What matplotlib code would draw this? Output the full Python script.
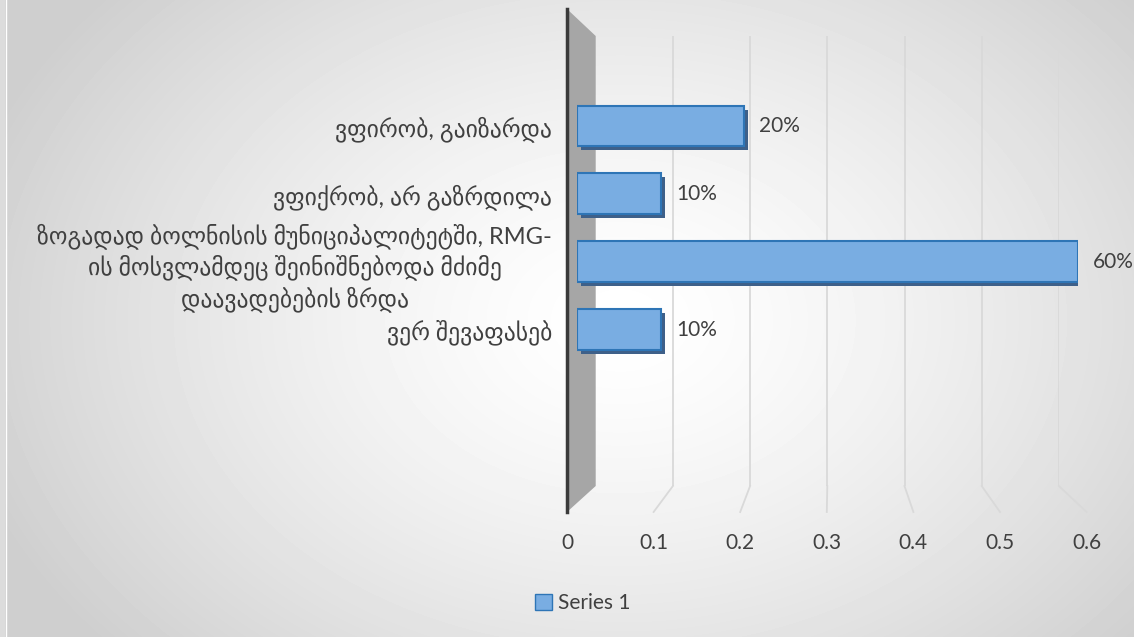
import numpy as np
import matplotlib
matplotlib.use("Agg")
import matplotlib.pyplot as plt
from matplotlib.patches import Polygon, Patch, Rectangle
from matplotlib.lines import Line2D
from matplotlib.transforms import offset_copy

plt.rcParams['font.family'] = ['Lato', 'DejaVu Sans']

# data (bottom to top, as matplotlib draws barh)
categories = ["ვერ შევაფასებ",
              "ზოგადად ბოლნისის მუნიციპალიტეტში, RMG-\nის მოსვლამდეც შეინიშნებოდა მძიმე\nდაავადებების ზრდა",
              "ვფიქრობ, არ გაზრდილა",
              "ვფირობ, გაიზარდა"]
values = [0.1, 0.6, 0.1, 0.2]
xticks = [0, 0.1, 0.2, 0.3, 0.4, 0.5, 0.6]
series_name = "Series 1"

W, H = 1134, 637
fig = plt.figure(figsize=(W / 100, H / 100), dpi=100)


def rect(x0, y0, x1, y1):
    # pixel box (top-left origin) -> figure fraction
    return [x0 / W, 1 - y1 / H, (x1 - x0) / W, (y1 - y0) / H]


# radial grey background
bg = fig.add_axes([0, 0, 1, 1], zorder=-10)
yy, xx = np.mgrid[0:H, 0:W]
r = np.sqrt(((xx - 620) / 680.0) ** 2 + ((yy - 320) / 500.0) ** 2)
shade = 1 - 0.19 * np.clip(r, 0, 1) ** 1.4
bg.imshow(shade, cmap='gray', vmin=0, vmax=1, aspect='auto', extent=[0, W, H, 0])
bg.set_axis_off()
# thin light strip on the left edge of the chart frame
fig.add_artist(Rectangle((0, 0), 5 / W, 1, transform=fig.transFigure,
                         facecolor='#dcdcdc', edgecolor='none', zorder=-5))
fig.add_artist(Line2D([5.5 / W, 5.5 / W], [0, 1], color='white', lw=1, zorder=-4))

# back wall gridlines
ax_back = fig.add_axes(rect(595.7, 36, 595.7 + 0.6 * 772, 486), zorder=0)
ax_back.set_xlim(0, 0.6)
ax_back.set_ylim(0, 1)
ax_back.set_axis_off()
for t in xticks[1:]:
    ax_back.axvline(t, color='#d9d9d9', lw=1.3)

# front plane: axis line and tick labels
ax_front = fig.add_axes(rect(567, 9, 567 + 0.6 * 866, 512), zorder=1)
ax_front.patch.set_visible(False)
ax_front.set_xlim(0, 0.6)
ax_front.set_ylim(0, 1)
ax_front.set_xticks(xticks)
ax_front.set_xticklabels([f'{t:g}' for t in xticks], fontsize=15, color='#404040')
ax_front.tick_params(axis='x', length=0, pad=15)
ax_front.set_yticks([])
for s in ['top', 'right', 'bottom']:
    ax_front.spines[s].set_visible(False)
ax_front.spines['left'].set_color('#3a3a3a')
ax_front.spines['left'].set_linewidth(2.5)
ax_front.spines['left'].set_zorder(3)

to_fig = fig.transFigure.inverted()


def fpt(a, x, y):
    return to_fig.transform(a.transData.transform((x, y)))


# perspective floor segments
for t in xticks[1:]:
    p0 = fpt(ax_back, t, 0)
    p1 = fpt(ax_front, t, 0)
    fig.add_artist(Line2D([p0[0], p1[0]], [p0[1], p1[1]], color='#d9d9d9', lw=1.3, zorder=0))

# side wall
wall = Polygon([fpt(ax_front, 0, 1), fpt(ax_back, 0, 1), fpt(ax_back, 0, 0), fpt(ax_front, 0, 0)],
               closed=True, facecolor='#a6a6a6', edgecolor='none', zorder=0.5)
fig.add_artist(wall)

# bars
ax = fig.add_axes(rect(577, 10, 577 + 0.6 * 835, 512), zorder=2)
ax.patch.set_visible(False)
pos = np.arange(len(categories))
shift = offset_copy(ax.transData, fig=fig, x=4, y=-4, units='dots')
ax.barh(pos, values, height=0.6, color='#3e6089', transform=shift)
ax.barh(pos, values, height=0.6, color='#79ade2', edgecolor='#2e75b6', lw=1.5)
ax.set_xlim(0, 0.6)
ax.set_ylim(-2.69, 4.71)

for k, v in zip(pos, values):
    ax.annotate(f'{v:.0%}', (v, k), xytext=(11, 0), textcoords='offset points',
                va='center', ha='left', fontsize=15, color='#404040')

ax.set_yticks(pos)
ax.set_yticklabels(categories, fontsize=17, color='#404040')
for lbl in ax.get_yticklabels():
    lbl.set_multialignment('center')
    lbl.set_linespacing(1.3)
ax.tick_params(axis='y', length=0, pad=18)
ax.set_xticks([])
for s in ax.spines.values():
    s.set_visible(False)

fig.legend(handles=[Patch(facecolor='#79ade2', edgecolor='#2e75b6', label=series_name)],
           loc='center', bbox_to_anchor=(583 / W, 1 - 603 / H), frameon=False,
           fontsize=15, handlelength=0.8, handleheight=0.8, handletextpad=0.3,
           labelcolor='#404040')

fig.savefig('out.png', dpi=100)
